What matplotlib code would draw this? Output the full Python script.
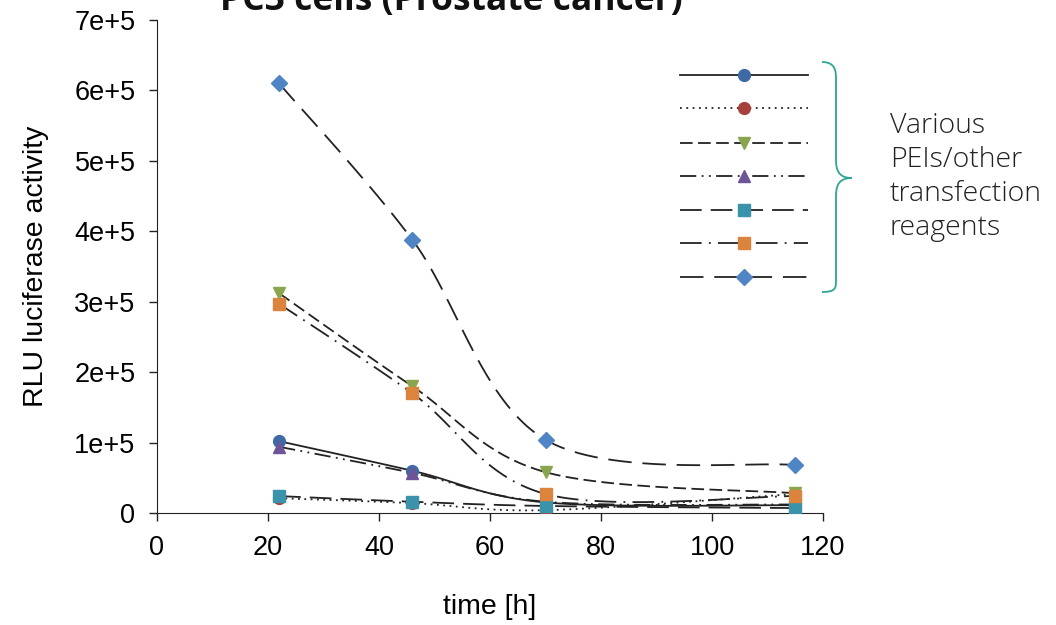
import numpy as np
import matplotlib
matplotlib.use("Agg")
import matplotlib.pyplot as plt
from matplotlib.path import Path
from matplotlib.patches import PathPatch

# data
time_h = [22, 46, 70, 115]
s_circle_blue = [1.02e5, 0.60e5, 0.15e5, 0.11e5]
s_circle_red = [0.21e5, 0.14e5, 0.04e5, 0.27e5]
s_tri_green = [3.12e5, 1.80e5, 0.58e5, 0.28e5]
s_tri_purple = [0.94e5, 0.57e5, 0.16e5, 0.12e5]
s_sq_teal = [0.24e5, 0.16e5, 0.10e5, 0.07e5]
s_sq_orange = [2.97e5, 1.70e5, 0.27e5, 0.24e5]
s_diamond = [6.10e5, 3.88e5, 1.04e5, 0.68e5]

yticks = [0, 1e5, 2e5, 3e5, 4e5, 5e5, 6e5, 7e5]
ytick_labels = ["0", "1e+5", "2e+5", "3e+5", "4e+5", "5e+5", "6e+5", "7e+5"]
xticks = [0, 20, 40, 60, 80, 100, 120]

series = [
    (s_circle_blue, "o", "#3E69A4", "-"),
    (s_circle_red, "o", "#A6403D", (0, (1, 2.5))),
    (s_tri_green, "v", "#89A54E", (0, (7, 3))),
    (s_tri_purple, "^", "#6E5498", (0, (9, 3, 1, 3, 1, 3))),
    (s_sq_teal, "s", "#3B93AB", (0, (12, 5))),
    (s_sq_orange, "s", "#DB843D", (0, (12, 4, 1, 4))),
    (s_diamond, "D", "#4F85C5", (0, (13, 6))),
]


def smooth(x, y, n=40):
    # Excel-like smoothed line (Catmull-Rom as bezier)
    p = np.column_stack([x, y]).astype(float)
    pts = np.vstack([p[0], p, p[-1]])
    out = []
    t = np.linspace(0, 1, n)[:, None]
    for i in range(1, len(pts) - 2):
        p0, p1, p2, p3 = pts[i - 1], pts[i], pts[i + 1], pts[i + 2]
        c1 = p1 + (p2 - p0) / 6
        c2 = p2 - (p3 - p1) / 6
        seg = ((1 - t) ** 3) * p1 + 3 * ((1 - t) ** 2) * t * c1 + 3 * (1 - t) * t ** 2 * c2 + t ** 3 * p2
        out.append(seg)
    out = np.vstack(out)
    return out[:, 0], out[:, 1]


plt.rcParams['font.family'] = ['Liberation Sans', 'DejaVu Sans']
fig = plt.figure(figsize=(10.56, 6.25), dpi=100)
ax = fig.add_axes([157 / 1056, 112 / 625, 666 / 1056, 493 / 625])

for vals, mk, col, ls in series:
    sx, sy = smooth(time_h, vals)
    ax.plot(sx, sy, color="#222222", lw=1.3, linestyle=ls, zorder=2)
    ax.plot(time_h, vals, linestyle="none", marker=mk, color=col, ms=8.5,
            markeredgecolor=col, zorder=3)

ax.set_xlim(0, 120)
ax.set_ylim(0, 7e5)
ax.set_xticks(xticks)
ax.set_yticks(yticks)
ax.set_yticklabels(ytick_labels)
ax.tick_params(labelsize=19.5, direction="out", length=5.5, width=1, color="#222222")
ax.tick_params(axis="x", pad=10)
ax.tick_params(axis="y", pad=10)
for s in ["top", "right"]:
    ax.spines[s].set_visible(False)
for s in ["left", "bottom"]:
    ax.spines[s].set_color("#222222")
ax.set_xlabel("time [h]", fontsize=20.5)
ax.set_ylabel("RLU luciferase activity", fontsize=20.5)
ax.xaxis.set_label_coords(0.5, -0.165)
ax.yaxis.set_label_coords(-0.162, 0.5)

# overlay for legend samples, brace and notes
ov = fig.add_axes([0, 0, 1, 1])
ov.set_xlim(0, 1056)
ov.set_ylim(625, 0)
ov.axis("off")

leg_y = [75, 108, 143, 176, 210, 243, 277]
for (vals, mk, col, ls), yy in zip(series, leg_y):
    ov.plot([680, 808], [yy, yy], color="#222222", lw=1.3, linestyle=ls)
    ov.plot([744], [yy], marker=mk, color=col, ms=8.5, markeredgecolor=col)

verts = [(822, 62), (836, 62), (836, 72), (836, 80),
         (836, 160),
         (836, 172), (840, 178), (852, 178),
         (840, 178), (836, 184), (836, 196),
         (836, 280),
         (836, 288), (836, 292), (822, 292)]
codes = [Path.MOVETO, Path.CURVE4, Path.CURVE4, Path.CURVE4,
         Path.LINETO,
         Path.CURVE4, Path.CURVE4, Path.CURVE4,
         Path.CURVE4, Path.CURVE4, Path.CURVE4,
         Path.LINETO,
         Path.CURVE4, Path.CURVE4, Path.CURVE4]
ov.add_patch(PathPatch(Path(verts, codes), fill=False, edgecolor="#2EA595", lw=1.3))

ov.text(890, 177, "Various\nPEIs/other\ntransfection\nreagents", fontsize=20.5,
        family=["Open Sans", "DejaVu Sans"], fontweight="light", color="#222222",
        va="center", ha="left", linespacing=1.3)

ov.text(451, 10, "PC3 cells (Prostate cancer)", fontsize=25.5, fontweight="bold",
        family=["Open Sans", "DejaVu Sans"], ha="center", va="baseline", color="#111111")

fig.savefig("out.png", dpi=100)
